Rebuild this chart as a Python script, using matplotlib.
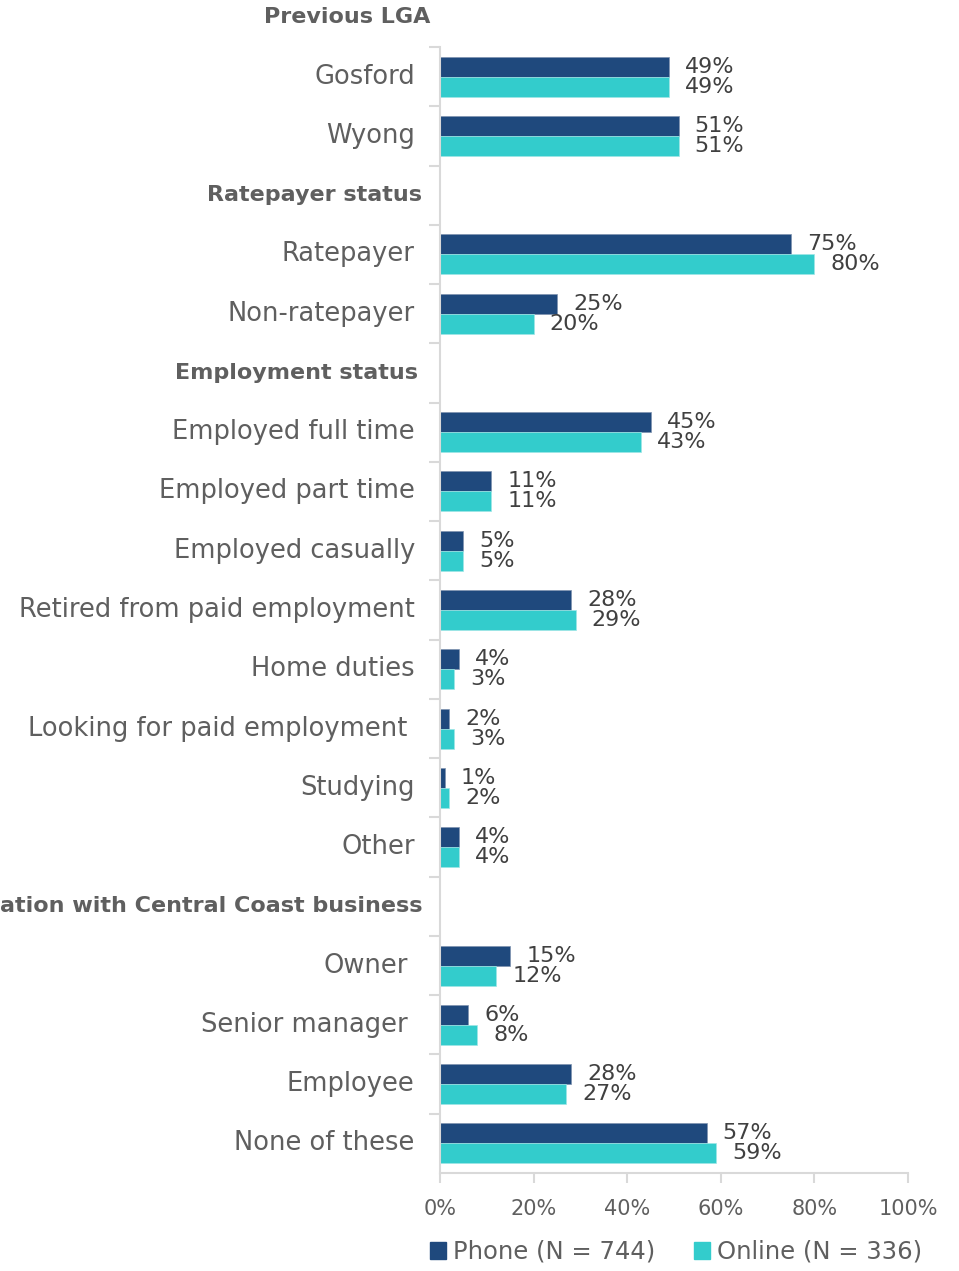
import numpy as np
import matplotlib.pyplot as plt
import matplotlib.transforms as mtransforms
from matplotlib.patches import Patch

# Rows from top to bottom; None marks a section header row
labels = ['Previous LGA', 'Gosford', 'Wyong',
          'Ratepayer status', 'Ratepayer', 'Non-ratepayer',
          'Employment status', 'Employed full time', 'Employed part time',
          'Employed casually', 'Retired from paid employment', 'Home duties',
          'Looking for paid employment', 'Studying', 'Other',
          'Association with Central Coast business', 'Owner', 'Senior manager',
          'Employee', 'None of these']
is_header = [True, False, False, True, False, False, True, False, False, False,
             False, False, False, False, False, True, False, False, False, False]
phone  = [None, 49, 51, None, 75, 25, None, 45, 11, 5, 28, 4, 2, 1, 4, None, 15, 6, 28, 57]
online = [None, 49, 51, None, 80, 20, None, 43, 11, 5, 29, 3, 3, 2, 4, None, 12, 8, 27, 59]
series_names = ['Phone (N = 744)', 'Online (N = 336)']
xticks = [0, 20, 40, 60, 80, 100]

# gap in pixels between label and axis
label_pad = [10, 25, 25, 18, 25, 25, 22, 25, 25, 25, 25, 25, 33, 25, 25, 18, 32, 32, 26, 26]

navy = '#1F497D'
teal = '#33CCCC'
grey = '#5F5F5F'
axis_grey = '#D9D9D9'

plt.rcParams['font.family'] = ['DejaVu Sans']

fig = plt.figure(figsize=(9.59, 12.71), dpi=100)
ax = fig.add_axes([440 / 959, 98 / 1271, 468 / 959, 1126 / 1271])

n = len(labels)
y = np.arange(n)
h = 0.3375
for i in range(n):
    if is_header[i]:
        continue
    ax.barh(y[i] - h / 2, phone[i], height=h, color=navy, edgecolor='#7F93B0', linewidth=0.5)
    ax.barh(y[i] + h / 2, online[i], height=h, color=teal, edgecolor='#9FE6E6', linewidth=0.5)
    off = mtransforms.offset_copy(ax.transData, fig=fig, x=16, y=0, units='dots')
    ax.text(phone[i], y[i] - h / 2, f'{phone[i]}%', transform=off, va='center', ha='left',
            fontsize=16, color='#404040')
    ax.text(online[i], y[i] + h / 2, f'{online[i]}%', transform=off, va='center', ha='left',
            fontsize=16, color='#404040')

ax.set_ylim(n - 0.5, 0.5)
ax.set_xlim(0, 100)

# category labels
trans = mtransforms.blended_transform_factory(ax.transAxes, ax.transData)
for i, lab in enumerate(labels):
    t = mtransforms.offset_copy(trans, fig=fig, x=-label_pad[i], y=0, units='dots')
    ax.text(0, y[i], lab, transform=t, ha='right', va='center', clip_on=False,
            fontsize=16 if is_header[i] else 18.5, color=grey,
            fontweight='bold' if is_header[i] else 'normal')

ax.set_yticks(np.arange(0.5, n - 0.5, 1.0))
ax.set_yticklabels([])
ax.set_xticks(xticks)
ax.set_xticklabels([f'{v}%' for v in xticks], fontsize=15, color=grey)
ax.tick_params(axis='y', length=8, width=1.5, color=axis_grey)
ax.tick_params(axis='x', length=7, width=1.5, color=axis_grey, pad=12)
for s in ['top', 'right']:
    ax.spines[s].set_visible(False)
for s in ['left', 'bottom']:
    ax.spines[s].set_color(axis_grey)
    ax.spines[s].set_linewidth(1.5)

handles = [Patch(color=navy), Patch(color=teal)]
fig.legend(handles, series_names, loc='center', bbox_to_anchor=(0.705, 0.015), ncol=2,
           frameon=False, fontsize=17.5, labelcolor=grey, handlelength=0.65, handleheight=0.65,
           handletextpad=0.3, columnspacing=1.6)

fig.savefig('out.png', dpi=100)
